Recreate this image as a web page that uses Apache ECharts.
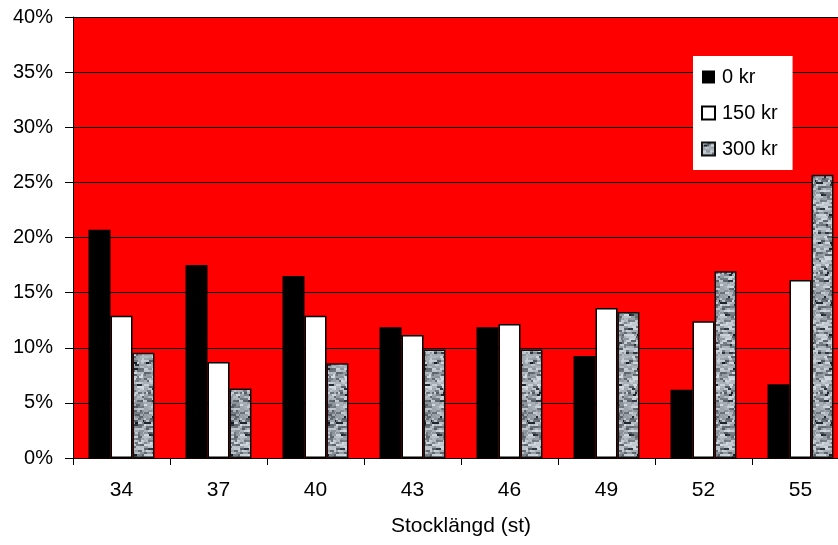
<!DOCTYPE html>
<html>
<head>
<meta charset="utf-8">
<script src="https://cdn.jsdelivr.net/npm/echarts@6/dist/echarts.min.js"></script>
<style>
  html, body { margin: 0; padding: 0; background: #ffffff; overflow: hidden; }
  #chart { width: 852px; height: 545px; }
</style>
</head>
<body>
<div id="chart"></div>
<script>
// Stock lengths on the category axis
const categories = ['34', '37', '40', '43', '46', '49', '52', '55'];
// Share of stems (%) per price level
const seriesNames = ['0 kr', '150 kr', '300 kr'];
const values0 = [20.7, 17.5, 16.5, 11.85, 11.85, 9.25, 6.2, 6.7];
const values150 = [12.9, 8.7, 12.9, 11.15, 12.15, 13.6, 12.4, 16.15];
const values300 = [9.55, 6.3, 8.6, 9.85, 9.85, 13.25, 16.95, 25.7];
const yTicks = [0, 5, 10, 15, 20, 25, 30, 35, 40];

// Grey speckled texture for the 300 kr bars (deterministic sequence)
function makeTexture() {
  const w = 24, h = 120;
  const c = document.createElement('canvas');
  c.width = w; c.height = h;
  const ctx = c.getContext('2d');
  let s = 98765;
  const next = () => { s = (s * 1103515245 + 12345) % 2147483648; return s / 2147483648; };
  for (let y = 0; y < h; y += 2) {
    let x = 0;
    while (x < w) {
      const cw = 2 + Math.floor(next() * 4);
      const r = next();
      let g;
      if (r < 0.05) g = 25 + next() * 35;
      else if (r < 0.3) g = 90 + next() * 45;
      else g = 145 + next() * 75;
      const gi = Math.round(g);
      ctx.fillStyle = 'rgb(' + (gi - 6) + ',' + gi + ',' + (gi + 8) + ')';
      ctx.fillRect(x, y, cw, 2);
      x += cw;
    }
  }
  return c;
}
const texture = makeTexture();

// The plot runs slightly past the right edge of the visible window
const chart = echarts.init(document.getElementById('chart'), null, { renderer: 'canvas' });

const font = 'Liberation Sans, Arial, sans-serif';

chart.setOption({
  animation: false,
  backgroundColor: '#ffffff',
  textStyle: { fontFamily: font },
  grid: {
    left: 73, top: 17, width: 776, height: 441,
    show: true, backgroundColor: '#ff0000', borderWidth: 0,
    containLabel: false
  },
  legend: {
    orient: 'vertical',
    left: 693, top: 56,
    backgroundColor: '#ffffff',
    padding: [10, 15, 10, 8],
    icon: 'rect',
    itemWidth: 13, itemHeight: 13,
    itemGap: 14,
    textStyle: { fontSize: 20, color: '#000', fontFamily: font, lineHeight: 22, padding: [0, 0, 0, 2] },
    data: seriesNames
  },
  xAxis: {
    type: 'category',
    data: categories,
    boundaryGap: true,
    name: 'Stocklängd (st)',
    nameLocation: 'middle',
    nameGap: 58,
    nameTextStyle: { fontSize: 21, color: '#000', fontFamily: font },
    axisLine: { show: true, lineStyle: { color: '#1a0000', width: 1 } },
    axisTick: { show: true, length: 7, alignWithLabel: false, lineStyle: { color: '#000' } },
    axisLabel: { fontSize: 21, color: '#000', margin: 22, fontFamily: font },
    splitLine: { show: false }
  },
  yAxis: {
    type: 'value',
    min: yTicks[0], max: yTicks[yTicks.length - 1], interval: 5,
    axisLine: { show: true, lineStyle: { color: '#000', width: 1 } },
    axisTick: { show: true, length: 8, inside: false, lineStyle: { color: '#000' } },
    axisLabel: { fontSize: 20, color: '#000', margin: 20, fontFamily: font, formatter: v => v + '%' },
    splitLine: { show: true, lineStyle: { color: '#000', width: 1 } }
  },
  series: [
    {
      name: seriesNames[0], type: 'bar', data: values0,
      barGap: '0%', barCategoryGap: '32%',
      itemStyle: { color: '#000000', borderColor: '#000', borderWidth: 0 }
    },
    {
      name: seriesNames[1], type: 'bar', data: values150,
      barGap: '0%', barCategoryGap: '32%',
      itemStyle: { color: '#ffffff', borderColor: '#000', borderWidth: 1.5 }
    },
    {
      name: seriesNames[2], type: 'bar', data: values300,
      barGap: '0%', barCategoryGap: '32%',
      itemStyle: { color: { image: texture, repeat: 'repeat' }, borderColor: '#111', borderWidth: 1.5 }
    }
  ]
});
</script>
</body>
</html>
